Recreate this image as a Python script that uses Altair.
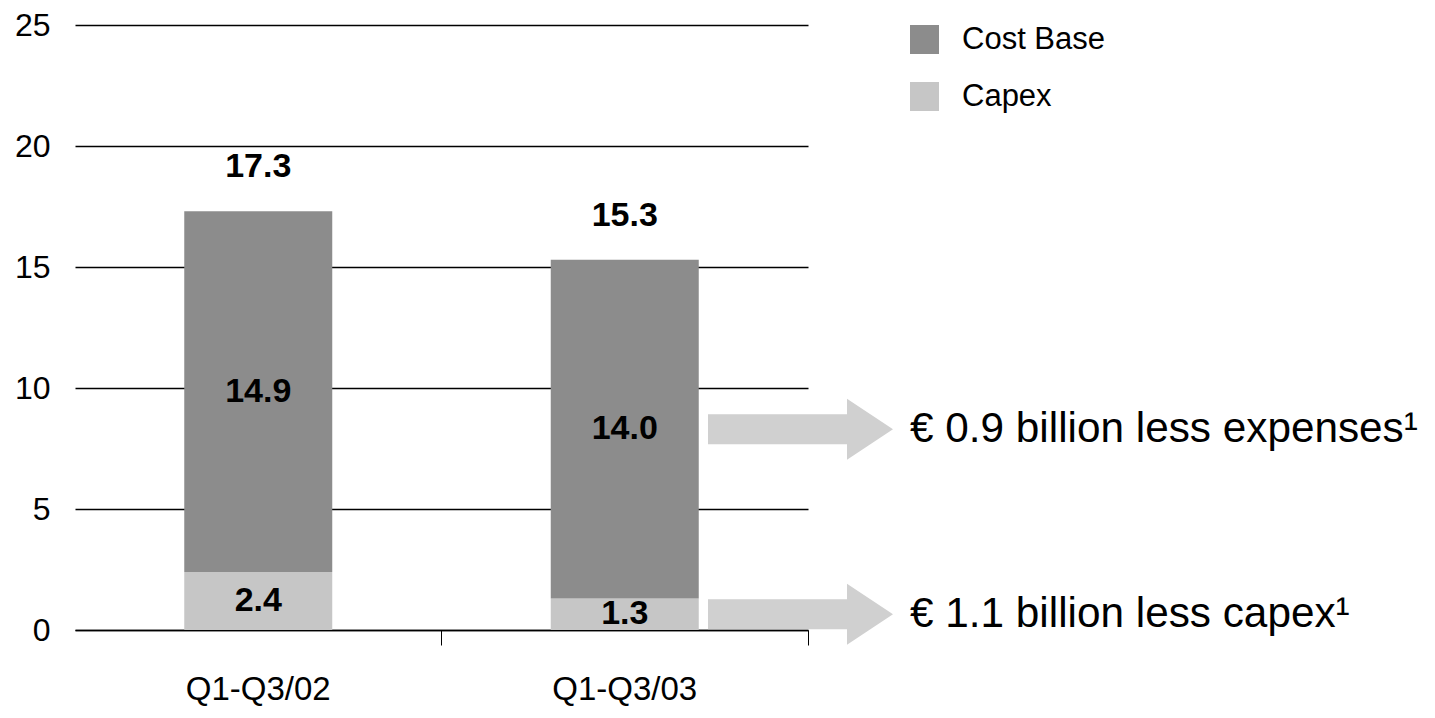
import altair as alt
import pandas as pd

# ---- data ----
periods = ["Q1-Q3/02", "Q1-Q3/03"]
cost_base = [14.9, 14.0]
capex = [2.4, 1.3]
series = ["Cost Base", "Capex"]
colors = ["#8c8c8c", "#c6c6c6"]
notes = ["€ 0.9 billion less expenses¹", "€ 1.1 billion less capex¹"]
y_ticks = [0, 5, 10, 15, 20, 25]

FONT = "Liberation Sans, Arial, sans-serif"

rows = []
for p, cb, cx in zip(periods, cost_base, capex):
    rows.append({"period": p, "series": "Capex", "value": cx, "start": 0.0, "end": cx})
    rows.append({"period": p, "series": "Cost Base", "value": cb, "start": cx, "end": cx + cb})
df = pd.DataFrame(rows)
df["mid"] = (df["start"] + df["end"]) / 2
df["label"] = df["value"].map(lambda v: f"{v:.1f}")

totals = pd.DataFrame({"period": periods,
                       "total": [a + b for a, b in zip(cost_base, capex)]})
totals["label"] = totals["total"].map(lambda v: f"{v:.1f}")

last = df[df["period"] == periods[-1]]
note_df = pd.DataFrame({
    "mid": [last[last["series"] == "Cost Base"]["mid"].iloc[0],
            last[last["series"] == "Capex"]["mid"].iloc[0]],
    "note": notes,
})

x_enc = alt.X("period:N", sort=periods,
              scale=alt.Scale(paddingInner=0, paddingOuter=0),
              axis=alt.Axis(title=None, labelAngle=0, grid=False, domainColor="black",
                            domainWidth=1.5, tickColor="black", tickSize=15, tickWidth=1,
                            bandPosition=1, labelFontSize=33, labelPadding=28,
                            labelColor="black", labelFont=FONT))
y_scale = alt.Scale(domain=[0, 25], nice=False)

bars = alt.Chart(df).mark_bar(size=148).encode(
    x=x_enc,
    y=alt.Y("start:Q", scale=y_scale,
            axis=alt.Axis(values=y_ticks, grid=True, gridColor="black", gridWidth=1.5,
                          domain=False, ticks=False, labelFontSize=32, labelPadding=25,
                          labelColor="black", title=None, labelFont=FONT)),
    y2="end:Q",
    color=alt.Color("series:N",
                    scale=alt.Scale(domain=series, range=colors),
                    legend=alt.Legend(title=None, orient="none", legendX=834, legendY=-1,
                                      symbolType="square", symbolSize=841, symbolStrokeWidth=0,
                                      symbolOpacity=1, labelFontSize=31, labelFont=FONT,
                                      labelColor="black", labelOffset=22, rowPadding=25,
                                      padding=0, labelLimit=300)),
)

seg_text = alt.Chart(df).mark_text(fontSize=34, fontWeight="bold", baseline="middle",
                                   font=FONT, color="black").encode(
    x=alt.X("period:N", sort=periods),
    y=alt.Y("mid:Q", scale=y_scale),
    text="label:N",
)

tot_text = alt.Chart(totals).mark_text(fontSize=34, fontWeight="bold", baseline="middle",
                                       font=FONT, color="black", dy=-44).encode(
    x=alt.X("period:N", sort=periods),
    y=alt.Y("total:Q", scale=y_scale),
    text="label:N",
)

arrow_path = "M-92.5,-15 L46.5,-15 L46.5,-30.5 L92.5,0 L46.5,30.5 L46.5,15 L-92.5,15 Z"
arrows = alt.Chart(note_df).mark_point(shape=arrow_path, size=4, filled=True,
                                       color="#d0d0d0", opacity=1, strokeWidth=0).encode(
    x=alt.value(725.5),
    y=alt.Y("mid:Q", scale=y_scale),
)

note_text = alt.Chart(note_df).mark_text(align="left", baseline="middle", fontSize=42.3,
                                         font=FONT, color="black").encode(
    x=alt.value(835),
    y=alt.Y("mid:Q", scale=y_scale),
    text="note:N",
)

chart = alt.layer(bars, seg_text, tot_text, arrows, note_text).properties(
    width=733, height=605,
    autosize=alt.AutoSizeParams(type="none"),
    padding={"left": 67, "top": 17, "right": 619, "bottom": 76},
).configure(font=FONT).configure_view(strokeWidth=0, stroke="transparent")

chart.save("out.html", embed_options={"renderer": "svg", "actions": False})
